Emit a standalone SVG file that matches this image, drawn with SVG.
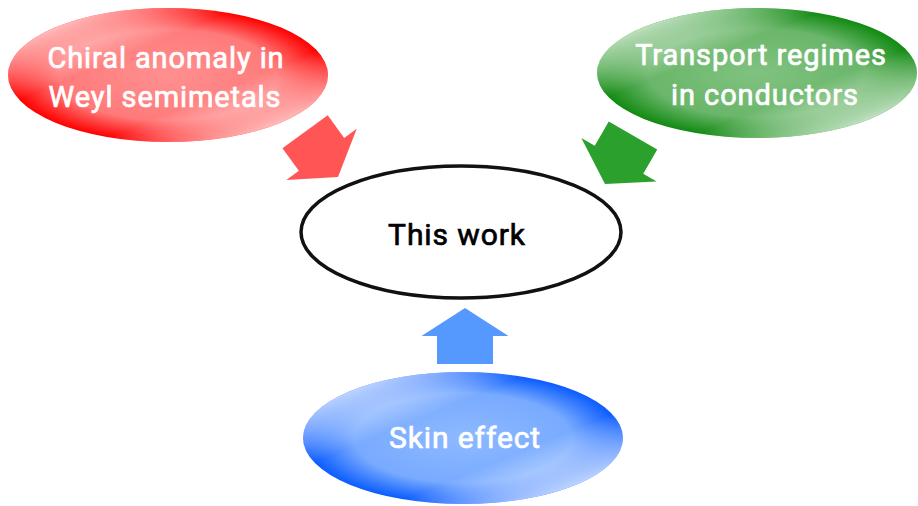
<svg xmlns="http://www.w3.org/2000/svg" width="918" height="506" viewBox="0 0 918 506">
<defs>
<radialGradient id="gRed" cx="0.5" cy="0.5" r="0.5"><stop offset="0" stop-color="#ff9090"/><stop offset="0.68" stop-color="#ff7a7a"/><stop offset="1" stop-color="#ff0000"/></radialGradient>
<radialGradient id="gGreen" cx="0.5" cy="0.5" r="0.5"><stop offset="0" stop-color="#80c280"/><stop offset="0.68" stop-color="#6ab66a"/><stop offset="1" stop-color="#118a11"/></radialGradient>
<radialGradient id="gBlue" cx="0.5" cy="0.5" r="0.5"><stop offset="0" stop-color="#8eb9ff"/><stop offset="0.68" stop-color="#78aaff"/><stop offset="1" stop-color="#0a5cff"/></radialGradient>
<linearGradient id="gWhite" x1="0" y1="0" x2="1" y2="1"><stop offset="0.08" stop-color="#fff" stop-opacity="1"/><stop offset="0.18" stop-color="#fff" stop-opacity="0.6"/><stop offset="0.36" stop-color="#fff" stop-opacity="0"/><stop offset="0.64" stop-color="#fff" stop-opacity="0"/><stop offset="0.82" stop-color="#fff" stop-opacity="0.6"/><stop offset="0.92" stop-color="#fff" stop-opacity="1"/></linearGradient>
<path id="arr" d="M0,0 L43.5,28 L28,28 L28,56 L-28,56 L-28,28 L-43.5,28 Z"/>
</defs>
<style>
.t{font-family:Roboto,"Liberation Sans",Arial,sans-serif;font-size:29px;letter-spacing:0.9px;text-anchor:middle;fill:#fff;stroke:#fff;stroke-width:0.7px}
.k{font-family:Roboto,"Liberation Sans",Arial,sans-serif;font-size:30px;letter-spacing:0.9px;text-anchor:middle;fill:#000;stroke:#000;stroke-width:0.7px}
.ov{fill:url(#gWhite)}
</style>
<g id="connectors">
<use href="#arr" fill="#ff5555" transform="translate(338,177) rotate(144)"/>
<use href="#arr" fill="#2ca02c" transform="translate(605,184) rotate(210)"/>
<use href="#arr" fill="#5599ff" transform="translate(465,308)"/>
</g>
<g id="chiral">
<ellipse cx="168" cy="75" rx="160" ry="67" fill="url(#gRed)"/>
<ellipse cx="168" cy="75" rx="160" ry="67" class="ov"/>
<text class="t" x="166" y="68">Chiral anomaly in</text>
<text class="t" x="165" y="107">Weyl semimetals</text>
</g>
<g id="transport">
<ellipse cx="757" cy="73" rx="160" ry="65" fill="url(#gGreen)"/>
<ellipse cx="757" cy="73" rx="160" ry="65" class="ov"/>
<text class="t" x="761" y="65">Transport regimes</text>
<text class="t" x="765" y="105">in conductors</text>
</g>
<g id="skin">
<ellipse cx="463" cy="438" rx="160" ry="66" fill="url(#gBlue)"/>
<ellipse cx="463" cy="438" rx="160" ry="66" class="ov"/>
<text class="t" x="465" y="448" style="font-size:30px">Skin effect</text>
</g>
<g id="thiswork">
<ellipse cx="461" cy="232" rx="160" ry="66" fill="#fff" stroke="#111" stroke-width="3.5"/>
<text class="k" x="457" y="245">This work</text>
</g>
</svg>
